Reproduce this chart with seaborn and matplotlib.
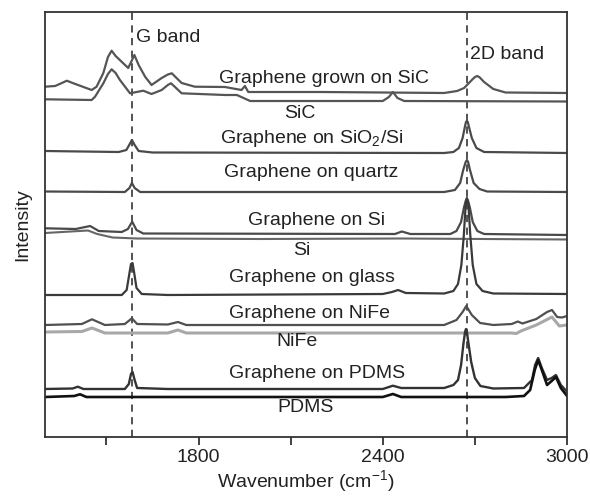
import numpy as np
import pandas as pd
import matplotlib
matplotlib.use("Agg")
import matplotlib.pyplot as plt
import seaborn as sns

# ---------------- data (wavenumber, intensity above each trace's baseline) -------------
grown_sic_wn = [1300, 1333, 1355, 1371, 1390, 1452, 1468, 1490, 1505, 1517, 1530, 1571, 1582, 1591,
                1605, 1626, 1647, 1680, 1700, 1713, 1725, 1745, 1788, 1886, 1940, 1951, 1962, 2200,
                2600, 2642, 2665, 2690, 2700, 2708, 2716, 2730, 2760, 2800, 3000]
grown_sic_int = [6.3, 7, 10, 12.3, 10, 3, 6.3, 20, 36, 42.3, 37, 25, 32, 38,
                 28, 16.3, 8, 15, 18.5, 19.7, 16, 10, 6.3, 6, 3, 7, 1, 1,
                 0, 2, 5, 13, 16, 17, 15.5, 11, 4, 0.5, 0]

sic_wn = [1300, 1452, 1463, 1490, 1505, 1517, 1530, 1544, 1577, 1620, 1647, 1680, 1700, 1710, 1720,
          1745, 1886, 1925, 1968, 2400, 2420, 2433, 2448, 2470, 3000]
sic_int = [1.7, 1, 4.3, 17.7, 27, 31.7, 28, 21, 7.7, 10.3, 7, 11, 16, 17.7, 15,
           7.7, 6, 6, 0, 0, 4, 9, 3, 0, -0.5]

sio2_wn = [1300, 1540, 1565, 1576, 1583, 1592, 1605, 1650, 2600, 2630, 2648, 2660, 2668, 2671,
           2674, 2677, 2680, 2690, 2705, 2730, 3000]
sio2_int = [1, 0, 2, 8, 12, 7, 1, -0.5, -1, 0, 4, 14, 26, 30, 31, 30, 26, 14, 4, 0, -1]

quartz_wn = [1300, 1560, 1575, 1583, 1592, 1610, 2600, 2635, 2652, 2662, 2670, 2674, 2678, 2684,
             2696, 2715, 2740, 3000]
quartz_int = [0.5, 0, 4, 9, 4, 0, 0, 2, 9, 22, 30, 32, 30, 22, 9, 3, 0.5, 0]

gr_si_wn = [1300, 1400, 1447, 1475, 1550, 1570, 1584, 1598, 1620, 2440, 2462, 2490, 2620, 2640,
            2655, 2664, 2670, 2674, 2678, 2684, 2693, 2708, 2730, 3000]
gr_si_int = [5.7, 5, 8, 3, 2, 5, 12.3, 4, 0.5, 0, 2.5, 0, 0, 3,
             12, 26, 33, 35, 33, 26, 12, 3, 0, -1]

si_wn = [1300, 1440, 1470, 1520, 1600, 2000, 2462, 3000]
si_int = [6, 8.5, 5, 1.5, 0.5, 0, 0.5, -0.5]

glass_wn = [1300, 1550, 1566, 1574, 1580, 1585, 1590, 1598, 1615, 1700, 2400, 2430, 2450, 2475,
            2600, 2630, 2645, 2656, 2664, 2670, 2672, 2674, 2676, 2679, 2685, 2693, 2705, 2725,
            2760, 3000]
glass_int = [0, 0, 5, 20, 31, 32, 23, 7, 1, 0, 1, 3, 5, 2,
             1.5, 4, 11, 30, 60, 90, 95, 97, 95, 90, 60, 30, 11, 4, 1.5, 1]

gr_nife_wn = [1300, 1420, 1453, 1495, 1560, 1583, 1600, 1700, 1733, 1760, 2600, 2640, 2660, 2672,
              2690, 2717, 2760, 2820, 2840, 2855, 2900, 2935, 2951, 2968, 2984, 3000]
gr_nife_int = [0, 1, 5.7, 0, 1, 6.7, 1, 0.5, 3, 0, 0, 5, 13, 19,
               10, 2, 0, 1, 3.5, 1.5, 6, 13, 15, 8, 7.5, 9]

nife_wn = [1300, 1420, 1453, 1495, 1700, 1733, 1760, 2820, 2835, 2850, 2900, 2951, 2975, 3000]
nife_int = [1, 1.5, 5, 0, 0, 3, 0, 0, -0.5, 2, 8, 16, 7, 8]

gr_pdms_wn = [1300, 1390, 1407, 1425, 1560, 1573, 1580, 1585, 1592, 1600, 1700, 2400, 2433, 2460,
              2600, 2630, 2645, 2655, 2663, 2668, 2671, 2674, 2679, 2688, 2700, 2718, 2760, 2860,
              2886, 2896, 2906, 2918, 2935, 2950, 2964, 2980, 3000]
gr_pdms_int = [0, 0.5, 2.3, 0, 0, 5, 15, 17, 9, 1, 0, 0, 3.3, 1,
               1, 4, 9, 24, 46, 57, 60, 57, 46, 27, 11, 3, 0.5, 1,
               9, 24, 31, 21, 9, 11, 14, 4, -2.7]

pdms_wn = [1300, 1395, 1414, 1435, 2400, 2433, 2460, 2800, 2860, 2880, 2895, 2906, 2918, 2935,
           2950, 2964, 2980, 3000]
pdms_int = [0, 1, 2.7, 0, 0, 3, 0, 0, 1, 7, 27, 37, 27, 12, 16, 20, 9, 1]

labels = ["Graphene grown on SiC", "SiC", "Graphene on SiO$_2$/Si", "Graphene on quartz",
          "Graphene on Si", "Si", "Graphene on glass", "Graphene on NiFe", "NiFe",
          "Graphene on PDMS", "PDMS"]
offsets = [344, 336, 285, 245, 203, 198, 142, 112, 104, 48, 40]

x_ticks = [1800, 2400, 3000]
x_minor = [1500, 2100, 2700]
band_pos = [1582, 2675]
band_names = ["G band", "2D band"]

# ---------------- styling ----------------
sns.set_theme(style="white")
plt.rcParams["font.family"] = ["Liberation Sans", "DejaVu Sans"]
plt.rcParams["mathtext.fontset"] = "custom"
plt.rcParams["mathtext.rm"] = "Liberation Sans"
plt.rcParams["mathtext.it"] = "Liberation Sans:italic"

fig = plt.figure(figsize=(5.9, 4.96), dpi=100)
ax = fig.add_axes([45 / 590, 1 - 437 / 496, (567 - 45) / 590, (437 - 12) / 496])

series = [(grown_sic_wn, grown_sic_int), (sic_wn, sic_int), (sio2_wn, sio2_int),
          (quartz_wn, quartz_int), (gr_si_wn, gr_si_int), (si_wn, si_int),
          (glass_wn, glass_int), (gr_nife_wn, gr_nife_int), (nife_wn, nife_int),
          (gr_pdms_wn, gr_pdms_int), (pdms_wn, pdms_int)]
colors = ["#555555", "#555555", "#4a4a4a", "#4a4a4a", "#4a4a4a", "#666666", "#3a3a3a",
          "#505050", "#a8a8a8", "#333333", "#111111"]
widths = [1.6, 1.6, 1.6, 1.6, 1.6, 1.5, 1.6, 1.6, 2.2, 1.7, 1.9]

for (wn, inten), off, c, lw in zip(series, offsets, colors, widths):
    df = pd.DataFrame({"wn": wn, "y": np.asarray(inten, dtype=float) + off})
    sns.lineplot(data=df, x="wn", y="y", ax=ax, color=c, lw=lw, estimator=None, sort=False)

for bp in band_pos:
    ax.axvline(bp, color="#444444", lw=1.3, ls=(0, (4, 3)), zorder=0)

# labels on traces (centre x in wavenumber, centre y in axis units)
label_pos = [(2207, 359), (2130, 324), (2170, 299), (2166, 265), (2183, 217), (2137, 187),
             (2170, 160), (2160, 124), (2121, 96), (2186, 63), (2147, 29)]
for lab, (lx, ly) in zip(labels, label_pos):
    ax.text(lx, ly, lab, ha="center", va="center", fontsize=14, color="#222222")

ax.text(1596, 400, band_names[0], ha="left", va="center", fontsize=14, color="#222222")
ax.text(2684, 383, band_names[1], ha="left", va="center", fontsize=14, color="#222222")

ax.set_xlim(1300, 3000)
ax.set_ylim(0, 425)
ax.set_xticks(x_ticks)
ax.set_xticklabels([str(t) for t in x_ticks], fontsize=14)
ax.set_xticks(x_minor, minor=True)
ax.tick_params(axis="x", which="both", direction="out", length=6, width=1.3, colors="#333333",
               bottom=True, labelcolor="#222222", pad=3)
ax.set_yticks([])
ax.set_xlabel("Wavenumber (cm$^{-1}$)", fontsize=14, color="#222222")
ax.xaxis.set_label_coords(0.5, -0.072)
ax.set_ylabel("Intensity", fontsize=14, color="#222222", labelpad=10)
for s in ax.spines.values():
    s.set_visible(True)
    s.set_color("#333333")
    s.set_linewidth(1.3)

fig.savefig("out.png", dpi=100)
